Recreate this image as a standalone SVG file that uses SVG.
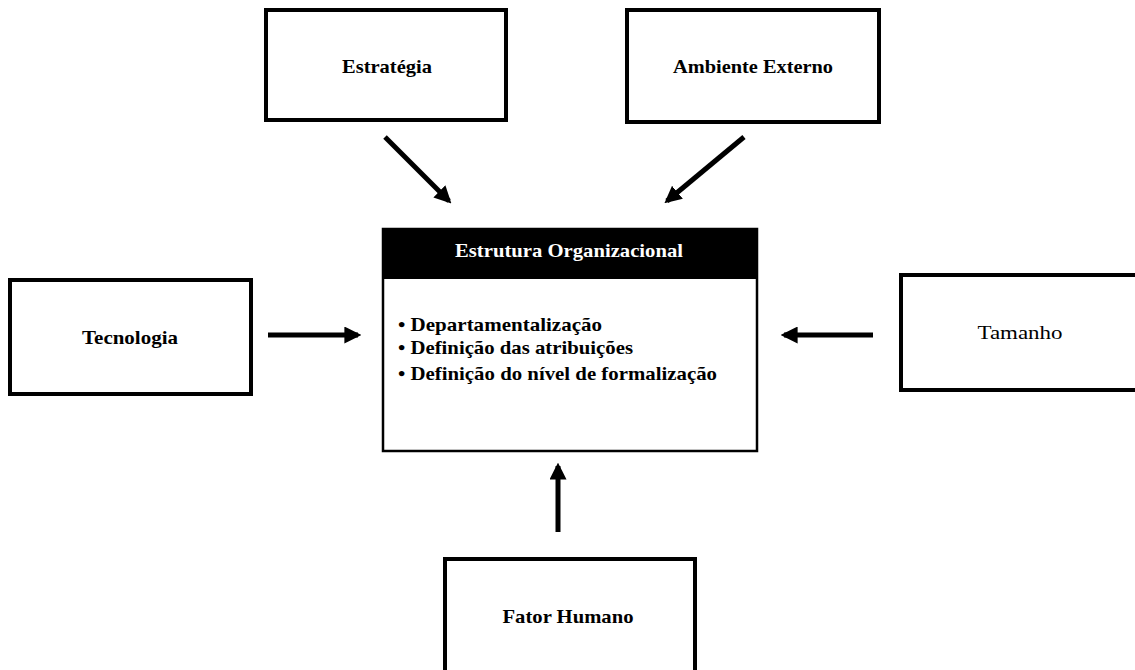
<svg xmlns="http://www.w3.org/2000/svg" width="1135" height="670" viewBox="0 0 1135 670">
<style>
.box{fill:#fff;stroke:#000;stroke-width:4}
.t{font-family:"Liberation Serif","Times New Roman",serif;font-weight:bold;font-size:19px;text-anchor:middle;fill:#000}
.b{font-family:"Liberation Serif","Times New Roman",serif;font-weight:bold;font-size:19px;fill:#000}
.c{stroke:#000;stroke-width:5;fill:none;marker-end:url(#ah)}
</style>
<defs>
<marker id="ah" viewBox="0 0 10 10" refX="8" refY="5" markerWidth="3.4" markerHeight="3.4" orient="auto" markerUnits="strokeWidth">
<path d="M0,0 L10,5 L0,10 Z" fill="#000"/>
</marker>
</defs>
<rect width="1135" height="670" fill="#fff"/>
<g id="estrategia">
<rect class="box" x="266" y="10" width="240" height="110"/>
<text class="t" x="387" y="73" textLength="90" lengthAdjust="spacingAndGlyphs">Estratégia</text>
</g>
<g id="ambiente">
<rect class="box" x="627" y="10" width="252" height="112"/>
<text class="t" x="753" y="73" textLength="160" lengthAdjust="spacingAndGlyphs">Ambiente Externo</text>
</g>
<g id="estrutura">
<rect x="383" y="229" width="374" height="222" fill="#fff" stroke="#000" stroke-width="2.5"/>
<rect x="383" y="229" width="374" height="50" fill="#000"/>
<text class="t" x="569" y="257" style="fill:#fff" textLength="228" lengthAdjust="spacingAndGlyphs">Estrutura Organizacional</text>
<text class="b" x="398" y="331" textLength="204" lengthAdjust="spacingAndGlyphs">• Departamentalização</text>
<text class="b" x="398" y="354" textLength="235" lengthAdjust="spacingAndGlyphs">• Definição das atribuições</text>
<text class="b" x="398" y="380" textLength="319" lengthAdjust="spacingAndGlyphs">• Definição do nível de formalização</text>
</g>
<g id="tecnologia">
<rect class="box" x="10" y="280" width="241" height="114"/>
<text class="t" x="130" y="344" textLength="96" lengthAdjust="spacingAndGlyphs">Tecnologia</text>
</g>
<g id="tamanho">
<rect class="box" x="901" y="275" width="240" height="115"/>
<text class="t" x="1020" y="339" style="font-weight:normal" textLength="85" lengthAdjust="spacingAndGlyphs">Tamanho</text>
</g>
<g id="fator">
<rect class="box" x="445" y="559" width="250" height="120"/>
<text class="t" x="568" y="623" textLength="131" lengthAdjust="spacingAndGlyphs">Fator Humano</text>
</g>
<g id="connectors">
<line class="c" x1="385" y1="137" x2="449" y2="201"/>
<line class="c" x1="744" y1="137" x2="667" y2="201"/>
<line class="c" x1="268" y1="335" x2="358" y2="335"/>
<line class="c" x1="873" y1="335" x2="784" y2="335"/>
<line class="c" x1="558" y1="532" x2="558" y2="466"/>
</g>
</svg>
